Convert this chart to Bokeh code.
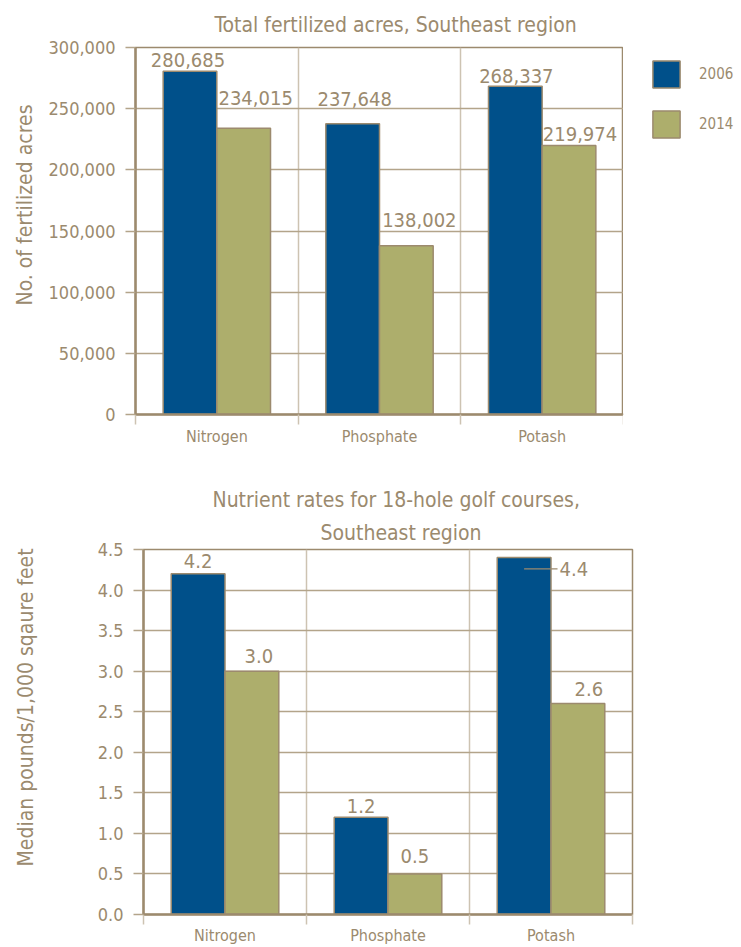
from bokeh.plotting import figure
from bokeh.models import (FixedTicker, Legend, LegendItem, ColumnDataSource, Title,
                          NumeralTickFormatter, Range1d, LinearAxis)
from bokeh.layouts import column, row
from bokeh.embed import file_html
from bokeh.resources import INLINE
from bokeh.core.properties import value

# ---------------- data ----------------
categories = ["Nitrogen", "Phosphate", "Potash"]
years = ["2006", "2014"]
acres_2006 = [280685, 237648, 268337]
acres_2014 = [234015, 138002, 219974]
rates_2006 = [4.2, 1.2, 4.4]
rates_2014 = [3.0, 0.5, 2.6]
acres_ticks = [0, 50000, 100000, 150000, 200000, 250000, 300000]
rate_ticks = [0.0, 0.5, 1.0, 1.5, 2.0, 2.5, 3.0, 3.5, 4.0, 4.5]

# ---------------- style ----------------
FONT = "'DejaVu Sans Condensed', 'Liberation Sans Narrow', Roboto"
TXT = "#9b8a6e"
AXIS = "#9c8a6e"
GRID = "#b3a48a"
VGRID = "#cdc3b2"
BLUE = "#00508a"
GREEN = "#adae6c"
W = 0.33
TITLE_SIZE = "21px"
AXLAB_SIZE = "21px"
TICK_SIZE = "18px"
XLAB_SIZE = "16px"
VAL_SIZE = "20px"

# label placement tweaks (pixels)
acres_dx_06, acres_dy_06 = [-2, 2, 1], [-4, -18, -3]
acres_dx_14, acres_dy_14 = [12, 13, 11], [-23, -19, -4]
rates_dx_06, rates_dy_06 = [0, 0], [-6, -4]
rates_dx_14, rates_dy_14 = [7, 0, 11], [-8, -11, -8]


def spacer(size):
    """An axis with no visible marks, used only to reserve space in a side panel."""
    return LinearAxis(ticker=FixedTicker(ticks=[0], minor_ticks=[]),
                      major_label_overrides={0: ""},
                      major_tick_out=size, major_tick_in=0, minor_tick_out=0, minor_tick_in=0,
                      major_tick_line_color=None, minor_tick_line_color=None,
                      axis_line_color=None, major_label_standoff=0)


def base_fig(width, height, ymax, yticks, fmt, ylabel, left, right, top, bottom,
             xstand, yspace, ylab_standoff, ylab_offset):
    p = figure(width=width, height=height, output_backend="svg", toolbar_location=None,
               x_range=Range1d(0, len(categories)), y_range=Range1d(0, ymax),
               min_border_left=left, min_border_right=right,
               min_border_top=top, min_border_bottom=bottom)
    p.background_fill_color = "white"
    p.border_fill_color = "white"
    p.outline_line_color = AXIS
    p.outline_line_width = 1.5
    p.outline_line_alpha = 1

    centers = [i + 0.5 for i in range(len(categories))]
    p.xaxis.ticker = FixedTicker(ticks=centers, minor_ticks=list(range(len(categories) + 1)))
    p.xaxis.major_label_overrides = {c: n for c, n in zip(centers, categories)}
    p.xaxis.major_tick_out = 0
    p.xaxis.major_tick_in = 0
    p.xaxis.minor_tick_out = 10
    p.xaxis.minor_tick_in = 0
    p.xaxis.minor_tick_line_color = VGRID
    p.xaxis.minor_tick_line_width = 1.5
    p.xaxis.axis_line_color = AXIS
    p.xaxis.axis_line_width = 2.5
    p.xaxis.major_label_standoff = xstand
    p.xaxis.major_label_text_font = FONT
    p.xaxis.major_label_text_font_size = XLAB_SIZE
    p.xaxis.major_label_text_color = TXT

    p.yaxis.ticker = FixedTicker(ticks=yticks, minor_ticks=[])
    p.yaxis.formatter = NumeralTickFormatter(format=fmt)
    p.yaxis.major_tick_out = 10
    p.yaxis.major_tick_in = 0
    p.yaxis.major_tick_line_color = GRID
    p.yaxis.major_tick_line_width = 1.5
    p.yaxis.minor_tick_line_color = None
    p.yaxis.axis_line_color = AXIS
    p.yaxis.axis_line_width = 2.5
    p.yaxis.major_label_standoff = 10
    p.yaxis.major_label_text_font = FONT
    p.yaxis.major_label_text_font_size = TICK_SIZE
    p.yaxis.major_label_text_color = TXT

    p.ygrid.ticker = FixedTicker(ticks=yticks)
    p.ygrid.grid_line_color = GRID
    p.ygrid.grid_line_width = 1.5
    p.xgrid.ticker = FixedTicker(ticks=list(range(1, len(categories))))
    p.xgrid.grid_line_color = VGRID
    p.xgrid.grid_line_width = 1.5

    # y-axis title (as a side title so it can sit off-centre like the original)
    if yspace > 0:
        p.add_layout(spacer(yspace), "left")
    p.add_layout(Title(text=ylabel, align="left", offset=ylab_offset,
                       standoff=ylab_standoff, text_font=FONT,
                       text_font_size=AXLAB_SIZE, text_font_style="normal",
                       text_color=TXT), "left")
    return p


def bar_style(color):
    return dict(fill_color=color, line_color=AXIS, line_width=1.5)


def add_bars(p, v06, v14):
    n = len(categories)
    src = ColumnDataSource(dict(
        x06=[i + 0.5 - W / 2 for i in range(n)],
        x14=[i + 0.5 + W / 2 for i in range(n)],
        v06=v06, v14=v14))
    p.vbar(x="x06", top="v06", width=W, bottom=0, source=src, **bar_style(BLUE))
    p.vbar(x="x14", top="v14", width=W, bottom=0, source=src, **bar_style(GREEN))


n = len(categories)

# ---------------- chart 1 ----------------
p1 = base_fig(623, 470, 300000, acres_ticks, "0,0", "No. of fertilized acres",
              135, 0, 47, 56, 2, 0, 18, 109)
p1.title.text = "Total fertilized acres, Southeast region"
p1.title.align = "left"
p1.title.offset = 79
p1.title.standoff = 21
p1.title.text_font = FONT
p1.title.text_font_size = TITLE_SIZE
p1.title.text_font_style = "normal"
p1.title.text_color = TXT

add_bars(p1, acres_2006, acres_2014)

lab1 = ColumnDataSource(dict(
    x=[i + 0.5 - W / 2 for i in range(n)] + [i + 0.5 + W / 2 for i in range(n)],
    y=acres_2006 + acres_2014,
    t=["{:,}".format(v) for v in acres_2006 + acres_2014],
    dx=acres_dx_06 + acres_dx_14,
    dy=acres_dy_06 + acres_dy_14))
p1.text(x="x", y="y", text="t", source=lab1, x_offset="dx", y_offset="dy",
        text_align="center", text_baseline="bottom",
        text_font=value(FONT), text_font_size=VAL_SIZE, text_color=TXT)

# legend, drawn in its own narrow panel to the right of chart 1
pl = figure(width=118, height=470, output_backend="svg", toolbar_location=None,
            x_range=Range1d(0, 1), y_range=Range1d(0, 1),
            min_border_left=0, min_border_right=0, min_border_top=0, min_border_bottom=0)
pl.axis.visible = False
pl.grid.visible = False
pl.outline_line_color = None
pl.background_fill_color = "white"
pl.border_fill_color = "white"
# swatch-only renderers (kept outside the visible range; only their legend glyphs show)
leg_r06 = pl.vbar(x=[-1], top=[0], width=0.1, **bar_style(BLUE))
leg_r14 = pl.vbar(x=[-1], top=[0], width=0.1, **bar_style(GREEN))
legend = Legend(items=[LegendItem(label=years[0], renderers=[leg_r06]),
                       LegendItem(label=years[1], renderers=[leg_r14])],
                location=(26, 273), orientation="vertical")
legend.glyph_width = 34
legend.glyph_height = 34
legend.spacing = 16
legend.padding = 0
legend.margin = 0
legend.label_standoff = 16
legend.label_text_font = FONT
legend.label_text_font_size = "15px"
legend.label_text_color = TXT
legend.border_line_color = None
legend.background_fill_alpha = 0
pl.add_layout(legend, "center")

# ---------------- chart 2 ----------------
p2 = base_fig(741, 477, 4.5, rate_ticks, "0.0", "Median pounds/1,000 sqaure feet",
              143, 109, 79, 20, 1, 45, 23, 48)
for line, so, off in [("Southeast region", 9, 177),
                      ("Nutrient rates for 18-hole golf courses,", 5, 69)]:
    t = Title(text=line, align="left", offset=off, text_font=FONT, text_font_size=TITLE_SIZE,
              text_font_style="normal", text_color=TXT, standoff=so)
    p2.add_layout(t, "above")

add_bars(p2, rates_2006, rates_2014)

# value labels above bars (all but the Potash 2006 one, which gets a leader line)
top_idx = [0, 1]
lab2 = ColumnDataSource(dict(
    x=[i + 0.5 - W / 2 for i in top_idx] + [i + 0.5 + W / 2 for i in range(n)],
    y=[rates_2006[i] for i in top_idx] + rates_2014,
    t=["{:.1f}".format(rates_2006[i]) for i in top_idx] + ["{:.1f}".format(v) for v in rates_2014],
    dx=rates_dx_06 + rates_dx_14,
    dy=rates_dy_06 + rates_dy_14))
p2.text(x="x", y="y", text="t", source=lab2, x_offset="dx", y_offset="dy",
        text_align="center", text_baseline="bottom",
        text_font=value(FONT), text_font_size=VAL_SIZE, text_color=TXT)

# leader-line label for Potash 2006
k = 2
lead = ColumnDataSource(dict(
    x0=[k + 0.5 - W / 2], x1=[k + 0.5 + 0.04], y=[rates_2006[k] - 0.14],
    t=["{:.1f}".format(rates_2006[k])]))
p2.segment(x0="x0", y0="y", x1="x1", y1="y", source=lead, line_color=TXT, line_width=1.2)
p2.text(x="x1", y="y", text="t", source=lead, x_offset=2,
        text_align="left", text_baseline="middle",
        text_font=value(FONT), text_font_size=VAL_SIZE, text_color=TXT)

layout = column(row(p1, pl), row(p2))
open("out.html", "w").write(file_html(layout, INLINE))
